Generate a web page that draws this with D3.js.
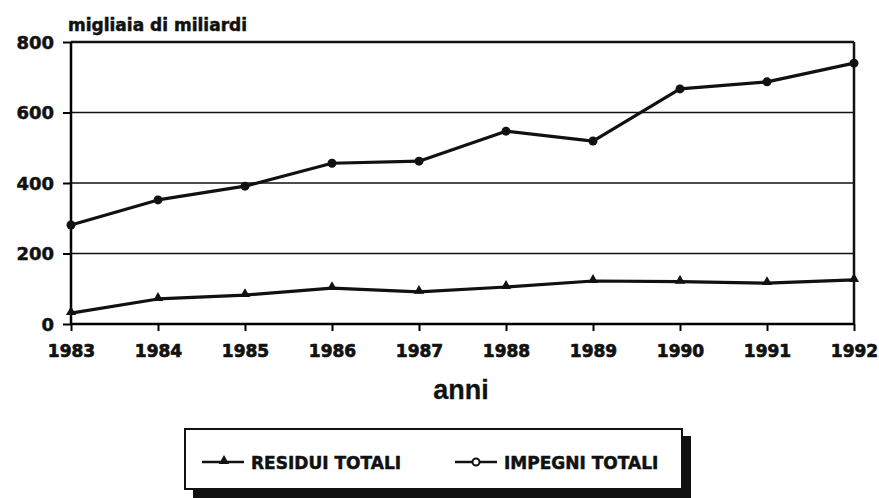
<!DOCTYPE html>
<html>
<head>
<meta charset="utf-8">
<script src="https://cdn.jsdelivr.net/npm/d3@7"></script>
<style>
  body { margin: 0; background: #fff; }
  svg text { font-family: "DejaVu Sans", sans-serif; font-weight: bold; fill: #111; stroke: #111; stroke-width: 0.5px; }
</style>
</head>
<body>
<div class="displayArea"></div>
<script>
// data
var years = [1983, 1984, 1985, 1986, 1987, 1988, 1989, 1990, 1991, 1992];
var residui = [31, 71, 82, 102, 91, 105, 122, 120, 116, 125];
var impegni = [281, 352, 391, 456, 462, 547, 519, 667, 687, 740];
var yTicks = [0, 200, 400, 600, 800];
var seriesNames = ["RESIDUI TOTALI", "IMPEGNI TOTALI"];

const width = 879, height = 498;
var mLeft = 71, mRight = 854, mTop = 42, mBottom = 324; // plot box edges

var svg = d3.select(".displayArea").append("svg")
    .attr("width", width)
    .attr("height", height);

var xScale = d3.scaleLinear()
    .domain([d3.min(years), d3.max(years)])
    .range([mLeft, mRight]);

var yScale = d3.scaleLinear()
    .domain([0, 800])
    .range([mBottom, mTop]);

// gridlines
svg.append("g").selectAll("line")
    .data(yTicks.filter(d => d > 0))
    .enter().append("line")
    .attr("x1", mLeft).attr("x2", mRight)
    .attr("y1", d => yScale(d)).attr("y2", d => yScale(d))
    .attr("stroke", "#111")
    .attr("stroke-width", d => d == 800 ? 2.5 : 1.6);

// right border
svg.append("line")
    .attr("x1", mRight).attr("x2", mRight)
    .attr("y1", mTop).attr("y2", mBottom)
    .attr("stroke", "#111").attr("stroke-width", 2.5);

var yAxis = d3.axisLeft(yScale)
    .tickValues(yTicks)
    .tickSize(8)
    .tickPadding(9)
    .tickFormat(d3.format("d"));

var xAxis = d3.axisBottom(xScale)
    .tickValues(years)
    .tickSize(7)
    .tickPadding(14)
    .tickFormat(d3.format("d"));

var gy = svg.append("g")
    .attr("transform", `translate(${mLeft},0)`)
    .call(yAxis);
gy.select(".domain").attr("stroke-width", 2.5).attr("d", `M0,${mTop}V${mBottom}`);
gy.selectAll(".tick line").attr("stroke-width", 2);
gy.selectAll("text").style("font-size", "18px").attr("dy", "0.36em").attr("fill", "#111");

var gx = svg.append("g")
    .attr("transform", `translate(0,${mBottom})`)
    .call(xAxis);
gx.select(".domain").attr("stroke-width", 2.5).attr("d", `M${mLeft},0H${mRight}`);
gx.selectAll(".tick line").attr("stroke-width", 2);
gx.selectAll("text").style("font-size", "17px").style("stroke-width", "0.7px").attr("fill", "#111");

// axis titles
svg.append("text")
    .attr("x", 68).attr("y", 31)
    .style("font-size", "17px")
    .text("migliaia di miliardi");

svg.append("text")
    .attr("x", 461).attr("y", 399)
    .attr("text-anchor", "middle")
    .style("font-family", "'Liberation Sans', sans-serif")
    .style("font-size", "27px")
    .style("stroke-width", "0.3px")
    .text("anni");

// lines
var line = d3.line()
    .x((d, i) => xScale(years[i]))
    .y(d => yScale(d));

[residui, impegni].forEach(function (s) {
    svg.append("path")
        .attr("d", line(s))
        .attr("fill", "none")
        .attr("stroke", "#111")
        .attr("stroke-width", 3.2)
        .attr("stroke-linejoin", "round");
});

var tri = d3.symbol().type(d3.symbolTriangle).size(45);

svg.append("g").selectAll("path")
    .data(residui)
    .enter().append("path")
    .attr("d", tri)
    .attr("transform", (d, i) => `translate(${xScale(years[i])},${yScale(d) - 1})`)
    .attr("fill", "#111");

svg.append("g").selectAll("circle")
    .data(impegni)
    .enter().append("circle")
    .attr("cx", (d, i) => xScale(years[i]))
    .attr("cy", d => yScale(d))
    .attr("r", 4.5)
    .attr("fill", "#111");

// legend
var lg = svg.append("g");
lg.append("rect")
    .attr("x", 193).attr("y", 436)
    .attr("width", 498).attr("height", 62)
    .attr("fill", "#111");
lg.append("rect")
    .attr("x", 185).attr("y", 429)
    .attr("width", 497).attr("height", 60)
    .attr("fill", "#fff")
    .attr("stroke", "#111").attr("stroke-width", 2);

var legX = [202, 455];
seriesNames.forEach(function (name, i) {
    var x0 = legX[i], ly = 462;
    lg.append("line")
        .attr("x1", x0).attr("x2", x0 + 42)
        .attr("y1", ly).attr("y2", ly)
        .attr("stroke", "#111").attr("stroke-width", 2.5);
    if (i == 0) {
        lg.append("path").attr("d", tri)
            .attr("transform", `translate(${x0 + 22},${ly - 1})`)
            .attr("fill", "#111");
    } else {
        lg.append("circle")
            .attr("cx", x0 + 21).attr("cy", ly).attr("r", 3.5)
            .attr("fill", "#fff").attr("stroke", "#111").attr("stroke-width", 2);
    }
    lg.append("text")
        .attr("x", x0 + 49).attr("y", ly + 7)
        .style("font-size", "17px")
        .text(name);
});
</script>
</body>
</html>
